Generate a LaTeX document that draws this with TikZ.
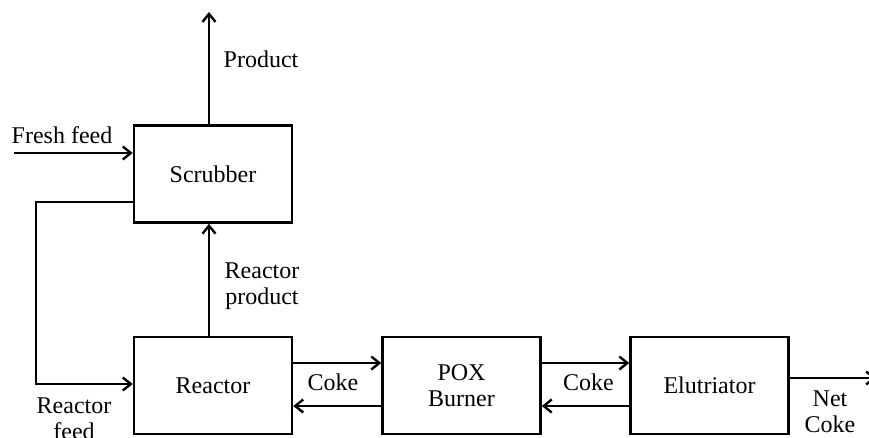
\documentclass[tikz,border=0pt]{standalone}
\usepackage{fontspec}
\setmainfont{Liberation Serif}
\usetikzlibrary{arrows.meta}
\tikzset{
  unitbox/.style={draw, line width=2.6pt, minimum width=158pt, minimum height=97pt, inner sep=0pt, align=center},
  flow/.style={line width=2.6pt, -{Straight Barb[length=8pt,width=13pt,line width=2.4pt]}},
  lbl/.style={inner sep=0pt, align=center, anchor=base},
}
\begin{document}
\begin{tikzpicture}[x=1pt,y=-1pt,font=\fontsize{24}{26}\selectfont]
\useasboundingbox (0,0) rectangle (869,437);
% units
\node[unitbox] (scrub) at (213,174) {Scrubber};
\node[unitbox] (reac) at (213,385.5) {Reactor};
\node[unitbox] (pox) at (461.5,385.5) {POX\\Burner};
\node[unitbox] (elut) at (709.5,385.5) {Elutriator};
% helper coordinates
\coordinate (prodend) at (209,12);
\coordinate (ff) at (14,153);
\coordinate (rA) at (36,202);
\coordinate (rB) at (36,384);
\coordinate (cu) at (0,363);
\coordinate (cl) at (0,406);
\coordinate (nc) at (876,378);
% connectors
\draw[flow] (scrub.north -| prodend) -- (prodend);
\draw[flow] (ff) -- (ff -| scrub.west);
\draw[flow] (rA -| scrub.west) -- (rA) -- (rB) -- (rB -| reac.west);
\draw[flow] (reac.north -| prodend) -- (scrub.south -| prodend);
\draw[flow] (reac.east |- cu) -- (pox.west |- cu);
\draw[flow] (pox.west |- cl) -- (reac.east |- cl);
\draw[flow] (pox.east |- cu) -- (elut.west |- cu);
\draw[flow] (elut.west |- cl) -- (pox.east |- cl);
\draw[flow] (elut.east |- nc) -- (nc);
% labels
\node[lbl] (lprod) at (261,67) {Product};
\node[lbl] (lff) at (62,143) {Fresh feed};
\node[lbl] (lrp) at (262,304) {Reactor\\product};
\node[lbl] (lrf) at (74,439) {Reactor\\feed};
\node[lbl] (lc1) at (333,390) {Coke};
\node[lbl] (lc2) at (588.5,390) {Coke};
\node[lbl] (lnc) at (830,432) {Net\\Coke};
\end{tikzpicture}
\end{document}
